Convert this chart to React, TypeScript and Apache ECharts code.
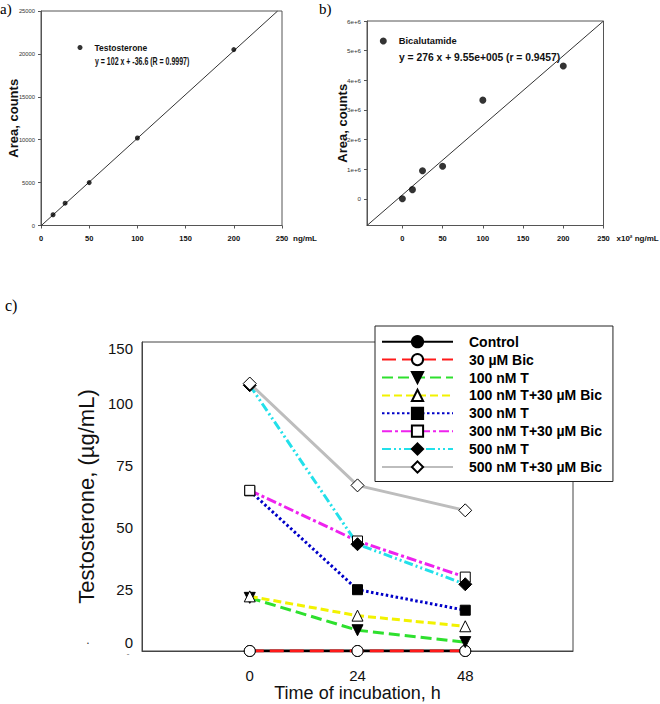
import React, { useEffect, useRef } from 'react';
import * as echarts from 'echarts';

// ---------- Panel a: testosterone calibration ----------
const testoConc = [12.5, 25, 50, 100, 200];
const testoArea = [1250, 2600, 5000, 10200, 20500];
const testoSlope = 102;
const testoIntercept = -36.6;
const xTicksAB = [0, 50, 100, 150, 200, 250];

// ---------- Panel b: bicalutamide calibration ----------
const bicConc = [0, 12.5, 25, 50, 100, 200];
const bicArea = [0, 310000, 950000, 1100000, 3330000, 4480000];
const bicFitX = [-44, 250];
const bicFitY = [-900000, 6000000];
const yTicksB = [0, 1000000, 2000000, 3000000, 4000000, 5000000, 6000000];
const yTickLabelsB = ['0', '1e+6', '2e+6', '3e+6', '4e+6', '5e+6', '6e+6'];

// ---------- Panel c: incubation time course ----------
const hours = [0, 24, 48];
const groupNames = [
  'Control',
  '30 µM Bic',
  '100 nM T',
  '100 nM T+30 µM Bic',
  '300 nM T',
  '300 nM T+30 µM Bic',
  '500 nM T',
  '500 nM T+30 µM Bic',
];
const control = [0, 0, 0];
const bic30 = [0, 0, 0];
const t100 = [21.5, 8.4, 3.6];
const t100bic = [22.1, 14.3, 10.0];
const t300 = [64.8, 24.8, 16.5];
const t300bic = [65.0, 44.5, 29.9];
const t500 = [107.5, 43.2, 27.0];
const t500bic = [108.2, 67.0, 56.9];
const groupValues = [control, bic30, t100, t100bic, t300, t300bic, t500, t500bic];
const yTicksC = [0, 25, 50, 75, 100, 125];
const yTickLabelsC = ['0', '25', '50', '75', '100', '150'];
const xTicksC = [0, 24, 48];

const SANS = "'Liberation Sans', Arial, Helvetica, sans-serif";
const SERIF = "'Liberation Serif', 'Times New Roman', serif";

const groupStyles = [
  { color: '#000000', dash: 'solid', symbol: 'circle', fill: '#000000', size: 11, rotate: 0 },
  { color: '#ff1a1a', dash: [14, 6], symbol: 'circle', fill: '#ffffff', size: 11, rotate: 0 },
  { color: '#2ee02e', dash: [11, 5], symbol: 'triangle', fill: '#000000', size: 11, rotate: 180 },
  { color: '#f2f200', dash: [8, 4], symbol: 'triangle', fill: '#ffffff', size: 11, rotate: 0 },
  { color: '#0000c8', dash: [2.5, 2.5], symbol: 'rect', fill: '#000000', size: 10, rotate: 0 },
  { color: '#ee22ee', dash: [10, 3, 3, 3], symbol: 'rect', fill: '#ffffff', size: 10, rotate: 0 },
  { color: '#22e0ea', dash: [9, 3, 2, 3, 2, 3], symbol: 'diamond', fill: '#000000', size: 13, rotate: 0 },
  { color: '#bdbdbd', dash: 'solid', symbol: 'diamond', fill: '#ffffff', size: 13, rotate: 0 },
];

export default function App() {
  const ref = useRef<HTMLDivElement>(null);

  useEffect(() => {
    if (!ref.current) return;
    const chart = echarts.init(ref.current, null, { renderer: 'svg' });

    const fitAEndX = (25000 - testoIntercept) / testoSlope;

    const option: any = {
      animation: false,
      backgroundColor: '#ffffff',
      grid: [
        { left: 41, top: 11, width: 241, height: 214.5, show: true, borderColor: '#555', borderWidth: 1 },
        { left: 367, top: 21, width: 236.5, height: 204.5, show: true, borderColor: '#555', borderWidth: 1 },
        { left: 142, top: 342, width: 431, height: 309, show: true, borderColor: '#444', borderWidth: 1 },
      ],
      xAxis: [
        {
          gridIndex: 0, type: 'value', min: 0, max: 250, interval: 50,
          name: 'ng/mL', nameLocation: 'end', nameGap: 11,
          nameTextStyle: { fontFamily: SANS, fontWeight: 'bold', fontSize: 8, color: '#111', verticalAlign: 'top', padding: [9, 0, 0, 0] },
          axisLine: { lineStyle: { color: '#555', width: 1 } },
          axisTick: { show: true, length: 3, lineStyle: { color: '#555' } },
          axisLabel: { fontFamily: SANS, fontWeight: 'bold', fontSize: 7.5, color: '#111', margin: 9 },
          splitLine: { show: false },
        },
        {
          gridIndex: 1, type: 'value', min: bicFitX[0], max: 250,
          name: 'x10² ng/mL', nameLocation: 'end', nameGap: 13,
          nameTextStyle: { fontFamily: SANS, fontWeight: 'bold', fontSize: 8, color: '#111', verticalAlign: 'top', padding: [9, 0, 0, 0] },
          axisLine: { onZero: false, lineStyle: { color: '#555', width: 1 } },
          axisTick: { show: true, length: 3, customValues: xTicksAB, lineStyle: { color: '#555' } },
          axisLabel: { fontFamily: SANS, fontWeight: 'bold', fontSize: 7.5, color: '#111', margin: 9, customValues: xTicksAB },
          splitLine: { show: false },
        },
        {
          gridIndex: 2, type: 'value', min: -24, max: 72,
          name: 'Time of incubation, h', nameLocation: 'middle', nameGap: 29,
          nameTextStyle: { fontFamily: SANS, fontSize: 18, color: '#111' },
          axisLine: { onZero: false, lineStyle: { color: '#444', width: 1 } },
          axisTick: { show: false },
          axisLabel: { fontFamily: SANS, fontSize: 15, color: '#111', margin: 17, customValues: xTicksC },
          splitLine: { show: false },
        },
      ],
      yAxis: [
        {
          gridIndex: 0, type: 'value', min: 0, max: 25000, interval: 5000,
          name: 'Area, counts', nameLocation: 'middle', nameGap: 21, nameMoveOverlap: false,
          nameTextStyle: { fontFamily: SANS, fontWeight: 'bold', fontSize: 13, color: '#111' },
          axisLine: { onZero: false, lineStyle: { color: '#555', width: 1 } },
          axisTick: { show: true, length: 3, lineStyle: { color: '#555' } },
          axisLabel: { fontFamily: SANS, fontSize: 5.8, color: '#333', margin: 6, formatter: (v: number) => String(v) },
          splitLine: { show: false },
        },
        {
          gridIndex: 1, type: 'value', min: bicFitY[0], max: 6000000,
          name: 'Area, counts', nameLocation: 'middle', nameGap: 18, nameMoveOverlap: false,
          nameTextStyle: { fontFamily: SANS, fontWeight: 'bold', fontSize: 13, color: '#111' },
          axisLine: { onZero: false, lineStyle: { color: '#555', width: 1 } },
          axisTick: { show: true, length: 3, customValues: yTicksB, lineStyle: { color: '#555' } },
          axisLabel: {
            fontFamily: SANS, fontSize: 6.2, color: '#333', margin: 6, customValues: yTicksB,
            formatter: (v: number) => yTickLabelsB[yTicksB.indexOf(v)] ?? '',
          },
          splitLine: { show: false },
        },
        {
          gridIndex: 2, type: 'value', min: 0, max: 125, interval: 25,
          name: 'Testosterone, (µg/mL)', nameLocation: 'middle', nameGap: 34,
          nameTextStyle: { fontFamily: SANS, fontSize: 22, color: '#111' },
          axisLine: { onZero: false, lineStyle: { color: '#444', width: 1 } },
          axisTick: { show: false },
          axisLabel: {
            fontFamily: SANS, fontSize: 15, color: '#111', margin: 9,
            formatter: (v: number) => {
              const s = yTickLabelsC[yTicksC.indexOf(v)] ?? '';
              if (v === 0) return '{z|' + s + '}';
              if (v === 125) return '{t|' + s + '}';
              return s;
            },
            rich: {
              z: { fontFamily: SANS, fontSize: 15, color: '#111', padding: [0, 0, 18, 0] },
              t: { fontFamily: SANS, fontSize: 15, color: '#111', padding: [12, 0, 0, 0] },
            },
          },
          splitLine: { show: false },
        },
      ],
      legend: [
        {
          data: ['Testosterone'], left: 77.5, top: 43, icon: 'circle', itemWidth: 5, itemHeight: 5,
          padding: 0, selectedMode: false,
          textStyle: { fontFamily: SANS, fontWeight: 'bold', fontSize: 8.5, color: '#111', padding: [0, 0, 0, 7] },
        },
        {
          data: ['Bicalutamide'], left: 379.8, top: 36.5, icon: 'circle', itemWidth: 7, itemHeight: 7,
          padding: 0, selectedMode: false,
          textStyle: { fontFamily: SANS, fontWeight: 'bold', fontSize: 9.3, color: '#111', padding: [0, 0, 0, 7] },
        },
        {
          data: groupNames, orient: 'vertical', left: 375, top: 326,
          itemWidth: 71, itemHeight: 14, itemGap: 3.9,
          padding: [8.7, 11, 7.5, 6], selectedMode: false,
          backgroundColor: '#ffffff', borderColor: '#222', borderWidth: 1, borderRadius: 0,
          textStyle: { fontFamily: SANS, fontWeight: 'bold', fontSize: 14, color: '#000', padding: [0, 0, 0, 11], lineHeight: 14 },
          z: 10,
        },
      ],
      graphic: [
        { type: 'text', left: 0, top: 1, style: { text: 'a)', font: '15px ' + SERIF, fill: '#000' } },
        { type: 'text', left: 319, top: 1, style: { text: 'b)', font: '15px ' + SERIF, fill: '#000' } },
        { type: 'text', left: 5, top: 297, style: { text: 'c)', font: '16px ' + SERIF, fill: '#000' } },
        { type: 'text', x: 95, y: 62, scaleX: 0.7, style: { text: 'y = 102 x + -36.6 (R = 0.9997)', font: 'bold 10px ' + SANS, fill: '#111', textVerticalAlign: 'middle' } },
        { type: 'text', x: 399, y: 57, scaleX: 0.94, style: { text: 'y = 276 x + 9.55e+005 (r = 0.9457)', font: 'bold 11px ' + SANS, fill: '#111', textVerticalAlign: 'middle' } },
        { type: 'text', x: 88, y: 640, style: { text: '.', font: '12px ' + SANS, fill: '#333', textAlign: 'center', textVerticalAlign: 'middle' } },
        { type: 'text', x: 128, y: 656, style: { text: 'ˇ', font: '8px ' + SANS, fill: '#666', textAlign: 'center', textVerticalAlign: 'middle' } },
      ],
      series: [
        {
          name: 'Testosterone', type: 'scatter', xAxisIndex: 0, yAxisIndex: 0,
          symbol: 'circle', symbolSize: 5, itemStyle: { color: '#000' },
          data: testoConc.map((x, i) => [x, testoArea[i]]), z: 3,
        },
        {
          name: 'Testosterone fit', type: 'line', xAxisIndex: 0, yAxisIndex: 0, showSymbol: false,
          lineStyle: { color: '#333', width: 1 },
          data: [[0, testoIntercept], [fitAEndX, testoSlope * fitAEndX + testoIntercept]], z: 2,
        },
        {
          name: 'Bicalutamide', type: 'scatter', xAxisIndex: 1, yAxisIndex: 1,
          symbol: 'circle', symbolSize: 7, itemStyle: { color: '#000' },
          data: bicConc.map((x, i) => [x, bicArea[i]]), z: 3,
        },
        {
          name: 'Bicalutamide fit', type: 'line', xAxisIndex: 1, yAxisIndex: 1, showSymbol: false,
          lineStyle: { color: '#333', width: 1 },
          data: bicFitX.map((x, i) => [x, bicFitY[i]]), z: 2,
        },
        ...groupNames.map((name, k) => {
          const st = groupStyles[k];
          return {
            name, type: 'line', xAxisIndex: 2, yAxisIndex: 2,
            symbol: st.symbol, symbolSize: st.size, symbolRotate: st.rotate,
            itemStyle: { color: st.fill, borderColor: '#000', borderWidth: 1 },
            lineStyle: { color: st.color, width: 3, type: st.dash },
            data: hours.map((h, i) => [h, groupValues[k][i]]),
            z: 3,
          };
        }),
      ],
    };

    chart.setOption(option);
    return () => chart.dispose();
  }, []);

  return (
    <div
      ref={ref}
      style={{ position: 'absolute', left: 0, top: 0, width: 660, height: 704 }}
    />
  );
}
